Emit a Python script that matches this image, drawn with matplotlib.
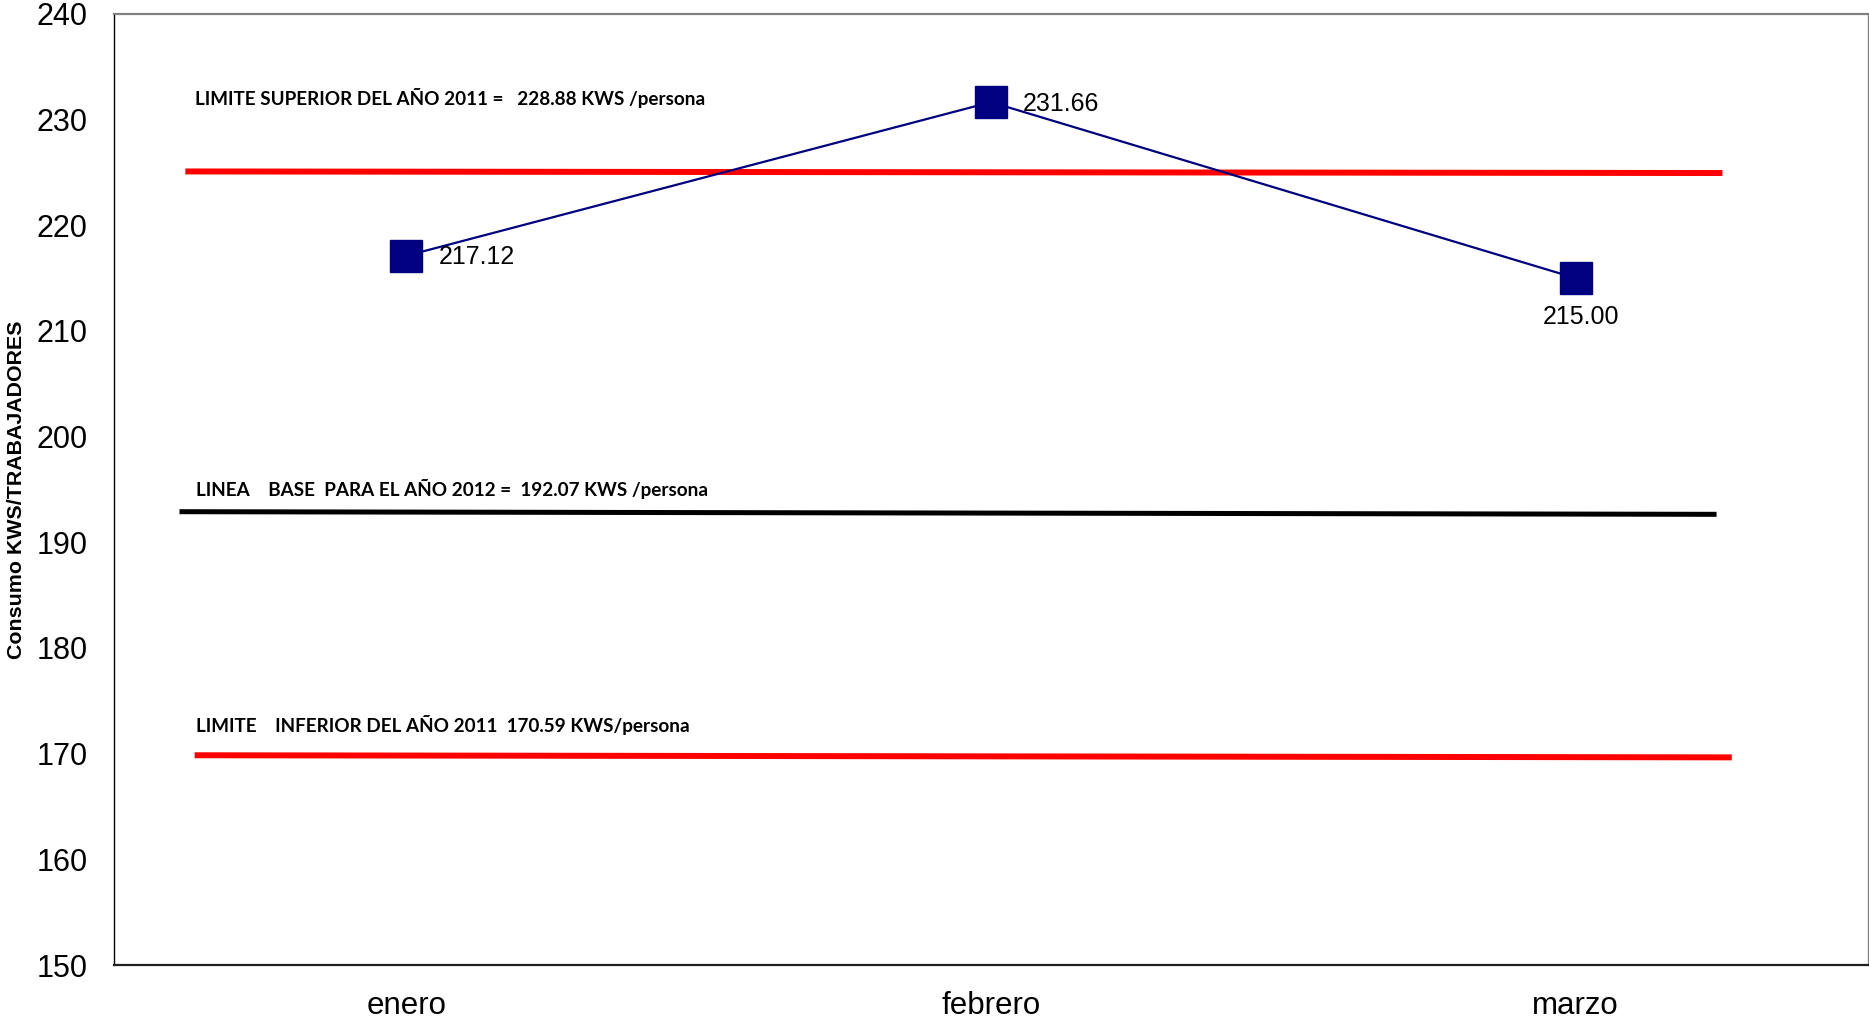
import matplotlib
matplotlib.use("Agg")
import matplotlib.pyplot as plt

# ---- data ----
categories = ["enero", "febrero", "marzo"]
consumo = [217.12, 231.66, 215.00]
value_labels = ["217.12", "231.66", "215.00"]

# reference lines (as drawn): [x_start, x_end], [y_start, y_end]
sup_x = [-0.378, 2.251]
sup_y = [225.1, 224.95]
base_x = [-0.388, 2.241]
base_y = [192.9, 192.65]
inf_x = [-0.362, 2.267]
inf_y = [169.85, 169.65]

sup_text = "LIMITE SUPERIOR DEL AÑO 2011 =   228.88 KWS /persona"
base_text = "LINEA    BASE  PARA EL AÑO 2012 =  192.07 KWS /persona"
inf_text = "LIMITE    INFERIOR DEL AÑO 2011  170.59 KWS/persona"
sup_text_pos = (-0.361, 232.05)
base_text_pos = (-0.359, 195.05)
inf_text_pos = (-0.359, 172.75)

yticks = list(range(150, 241, 10))
ylabel = "Consumo KWS/TRABAJADORES"

# ---- figure ----
plt.rcParams['font.family'] = ['Liberation Sans', 'DejaVu Sans']
fig = plt.figure(figsize=(18.69, 10.21), dpi=100)
ax = fig.add_axes([114/1869, 56/1021, (1868-114)/1869, (965-14)/1021])

ax.plot(sup_x, sup_y, color="#ff0000", lw=4.3, solid_capstyle="butt", zorder=2)
ax.plot(base_x, base_y, color="black", lw=3.6, solid_capstyle="butt", zorder=2)
ax.plot(inf_x, inf_y, color="#ff0000", lw=4.3, solid_capstyle="butt", zorder=2)

xs = list(range(len(categories)))
ax.plot(xs, consumo, color="#000080", lw=1.6, marker="s", markersize=23.5,
        markerfacecolor="#000080", markeredgecolor="#000080", zorder=3)

offsets = [((23.5, -1), "left", "center"), ((23, -1), "left", "center"), ((4, -28), "center", "center")]
for x, y, lab, (off, ha, va) in zip(xs, consumo, value_labels, offsets):
    ax.annotate(lab, (x, y), xytext=off, textcoords="offset points",
                ha=ha, va=va, fontsize=18, color="black", zorder=4)

tfont = dict(family=['Lato', 'DejaVu Sans'], weight="bold", fontsize=13.6, color="black",
             ha="left", va="center")
ax.text(*sup_text_pos, sup_text, **tfont)
ax.text(*base_text_pos, base_text, **tfont)
ax.text(*inf_text_pos, inf_text, **tfont)

ax.set_xlim(-0.5, 2.5)
ax.set_ylim(150, 240)
ax.set_yticks(yticks)
ax.set_yticklabels([str(t) for t in yticks], fontsize=22)
ax.set_xticks(xs)
ax.set_xticklabels(categories, fontsize=22.5)
ax.tick_params(axis="both", length=0)
ax.tick_params(axis="y", pad=19)
ax.tick_params(axis="x", pad=19)

ax.set_ylabel(ylabel, fontsize=15.4, fontweight="bold", family=['Liberation Sans', 'DejaVu Sans'])
ax.yaxis.set_label_coords((26 - 114) / 1754, 0.5)

ax.spines["left"].set_color("black")
ax.spines["left"].set_linewidth(1.0)
ax.spines["top"].set_color("#808080")
ax.spines["top"].set_linewidth(1.6)
ax.spines["bottom"].set_color("#202020")
ax.spines["bottom"].set_linewidth(1.6)
ax.spines["right"].set_color("#808080")
ax.spines["right"].set_linewidth(1.0)

fig.savefig("out.png", dpi=100)
